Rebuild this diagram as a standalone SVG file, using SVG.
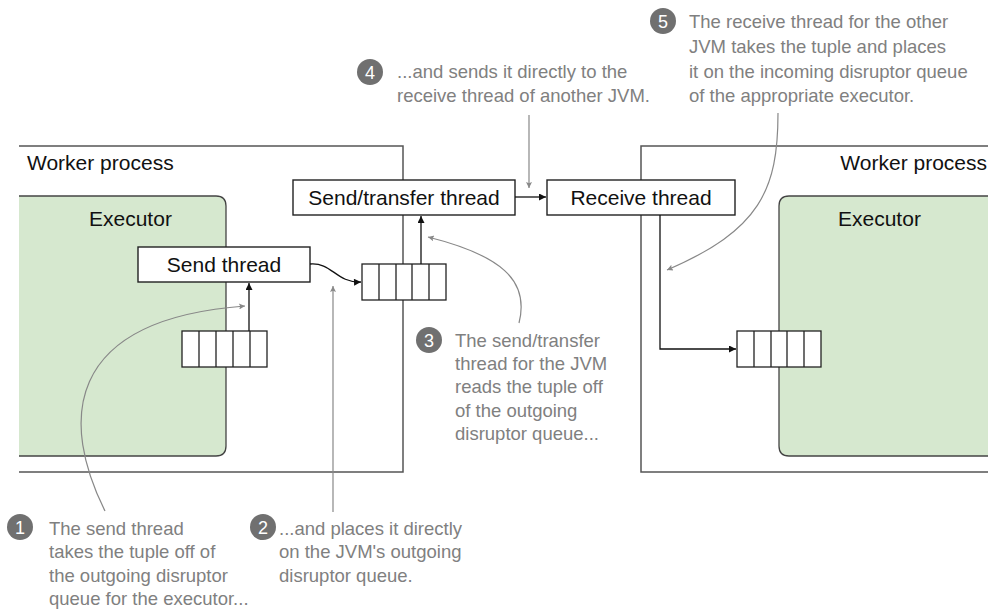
<svg xmlns="http://www.w3.org/2000/svg" width="994" height="612" viewBox="0 0 994 612">
<style>
.lbl{font-family:"Liberation Sans",Arial,sans-serif;font-size:21px;fill:#111}
.note{font-family:"Liberation Sans",Arial,sans-serif;font-size:18.5px;fill:#808080}
.num{font-family:"Liberation Sans",Arial,sans-serif;font-size:18px;fill:#fff;text-anchor:middle}
.badge{fill:#707070}
.box{fill:#fff;stroke:#222;stroke-width:1.4}
.wp{fill:none;stroke:#555;stroke-width:1.5}
.exe{fill:#d6e8cf;stroke:#444;stroke-width:1.3}
.q{fill:#fff;stroke:#222;stroke-width:1.3}
.blk{fill:none;stroke:#111;stroke-width:1.3}
.gry{fill:none;stroke:#888;stroke-width:1.2}
</style>
<defs>
<marker id="ab" viewBox="0 0 10 10" refX="10" refY="5" markerWidth="9" markerHeight="7" markerUnits="userSpaceOnUse" orient="auto"><path d="M0,0 L10,5 L0,10 z" fill="#111"/></marker>
<marker id="ag" viewBox="0 0 10 10" refX="10" refY="5" markerWidth="12" markerHeight="6" markerUnits="userSpaceOnUse" orient="auto"><path d="M0,0 L10,5 L0,10 L2,5 z" fill="#888"/></marker>
</defs>
<rect width="994" height="612" fill="#fff"/>

<g id="worker-left">
<path class="wp" d="M19,146 H403 V472 H19"/>
<text class="lbl" x="27" y="170">Worker process</text>
</g>
<g id="worker-right">
<path class="wp" d="M988,146 H641 V472 H988"/>
<text class="lbl" x="987" y="170" text-anchor="end">Worker process</text>
</g>
<g id="executor-left">
<path class="exe" d="M19,196 H216 Q226,196 226,206 V446 Q226,456 216,456 H19"/>
<text class="lbl" x="89" y="226">Executor</text>
</g>
<g id="executor-right">
<path class="exe" d="M988,196 H789 Q779,196 779,206 V446 Q779,456 789,456 H988"/>
<text class="lbl" x="838" y="226">Executor</text>
</g>

<g id="send-thread">
<rect class="box" x="138" y="247" width="172" height="35"/>
<text class="lbl" x="224" y="272" text-anchor="middle">Send thread</text>
</g>
<g id="send-transfer-thread">
<rect class="box" x="293" y="180" width="222" height="35"/>
<text class="lbl" x="404" y="205" text-anchor="middle">Send/transfer thread</text>
</g>
<g id="receive-thread">
<rect class="box" x="547" y="180" width="188" height="35"/>
<text class="lbl" x="641" y="205" text-anchor="middle">Receive thread</text>
</g>

<g id="queue-executor-out">
<rect class="q" x="182" y="331" width="85" height="36"/>
<path class="q" d="M199,331 V367 M216,331 V367 M233,331 V367 M250,331 V367"/>
</g>
<g id="queue-jvm-out">
<rect class="q" x="362" y="264" width="84" height="36"/>
<path class="q" d="M379,264 V300 M396,264 V300 M412,264 V300 M429,264 V300"/>
</g>
<g id="queue-executor-in">
<rect class="q" x="737" y="331" width="84" height="36"/>
<path class="q" d="M754,331 V367 M771,331 V367 M787,331 V367 M804,331 V367"/>
</g>

<g id="connectors">
<path class="blk" d="M249,331 V283" marker-end="url(#ab)"/>
<path class="blk" d="M310,264 C332,262 336,283 361,282" marker-end="url(#ab)"/>
<path class="blk" d="M421,264 V216" marker-end="url(#ab)"/>
<path class="blk" d="M515,197 H546" marker-end="url(#ab)"/>
<path class="blk" d="M660,215 V349 H736" marker-end="url(#ab)"/>
<path class="gry" d="M105,511 C62,425 60,320 245,306" marker-end="url(#ag)"/>
<path class="gry" d="M333,512 V286" marker-end="url(#ag)"/>
<path class="gry" d="M519,323 C530,280 500,255 428,237" marker-end="url(#ag)"/>
<path class="gry" d="M529,115 V188" marker-end="url(#ag)"/>
<path class="gry" d="M778,113 C778,190 760,230 667,270" marker-end="url(#ag)"/>
</g>

<g id="callout-1">
<circle class="badge" cx="20" cy="527" r="13"/>
<text class="num" x="20" y="533.5">1</text>
<text class="note" x="49" y="535">The send thread</text>
<text class="note" x="49" y="558">takes the tuple off of</text>
<text class="note" x="49" y="582">the outgoing disruptor</text>
<text class="note" x="49" y="605">queue for the executor...</text>
</g>
<g id="callout-2">
<circle class="badge" cx="263" cy="527" r="13"/>
<text class="num" x="263" y="533.5">2</text>
<text class="note" x="279" y="535">...and places it directly</text>
<text class="note" x="279" y="558">on the JVM's outgoing</text>
<text class="note" x="279" y="582">disruptor queue.</text>
</g>
<g id="callout-3">
<circle class="badge" cx="429" cy="340" r="13"/>
<text class="num" x="429" y="346.5">3</text>
<text class="note" x="455" y="347">The send/transfer</text>
<text class="note" x="455" y="370">thread for the JVM</text>
<text class="note" x="455" y="393">reads the tuple off</text>
<text class="note" x="455" y="417">of the outgoing</text>
<text class="note" x="455" y="440">disruptor queue...</text>
</g>
<g id="callout-4">
<circle class="badge" cx="370" cy="72" r="13"/>
<text class="num" x="370" y="78.5">4</text>
<text class="note" x="397" y="78">...and sends it directly to the</text>
<text class="note" x="397" y="102">receive thread of another JVM.</text>
</g>
<g id="callout-5">
<circle class="badge" cx="663" cy="21" r="13"/>
<text class="num" x="663" y="27.5">5</text>
<text class="note" x="689" y="28">The receive thread for the other</text>
<text class="note" x="689" y="53">JVM takes the tuple and places</text>
<text class="note" x="689" y="78">it on the incoming disruptor queue</text>
<text class="note" x="689" y="102">of the appropriate executor.</text>
</g>
</svg>
